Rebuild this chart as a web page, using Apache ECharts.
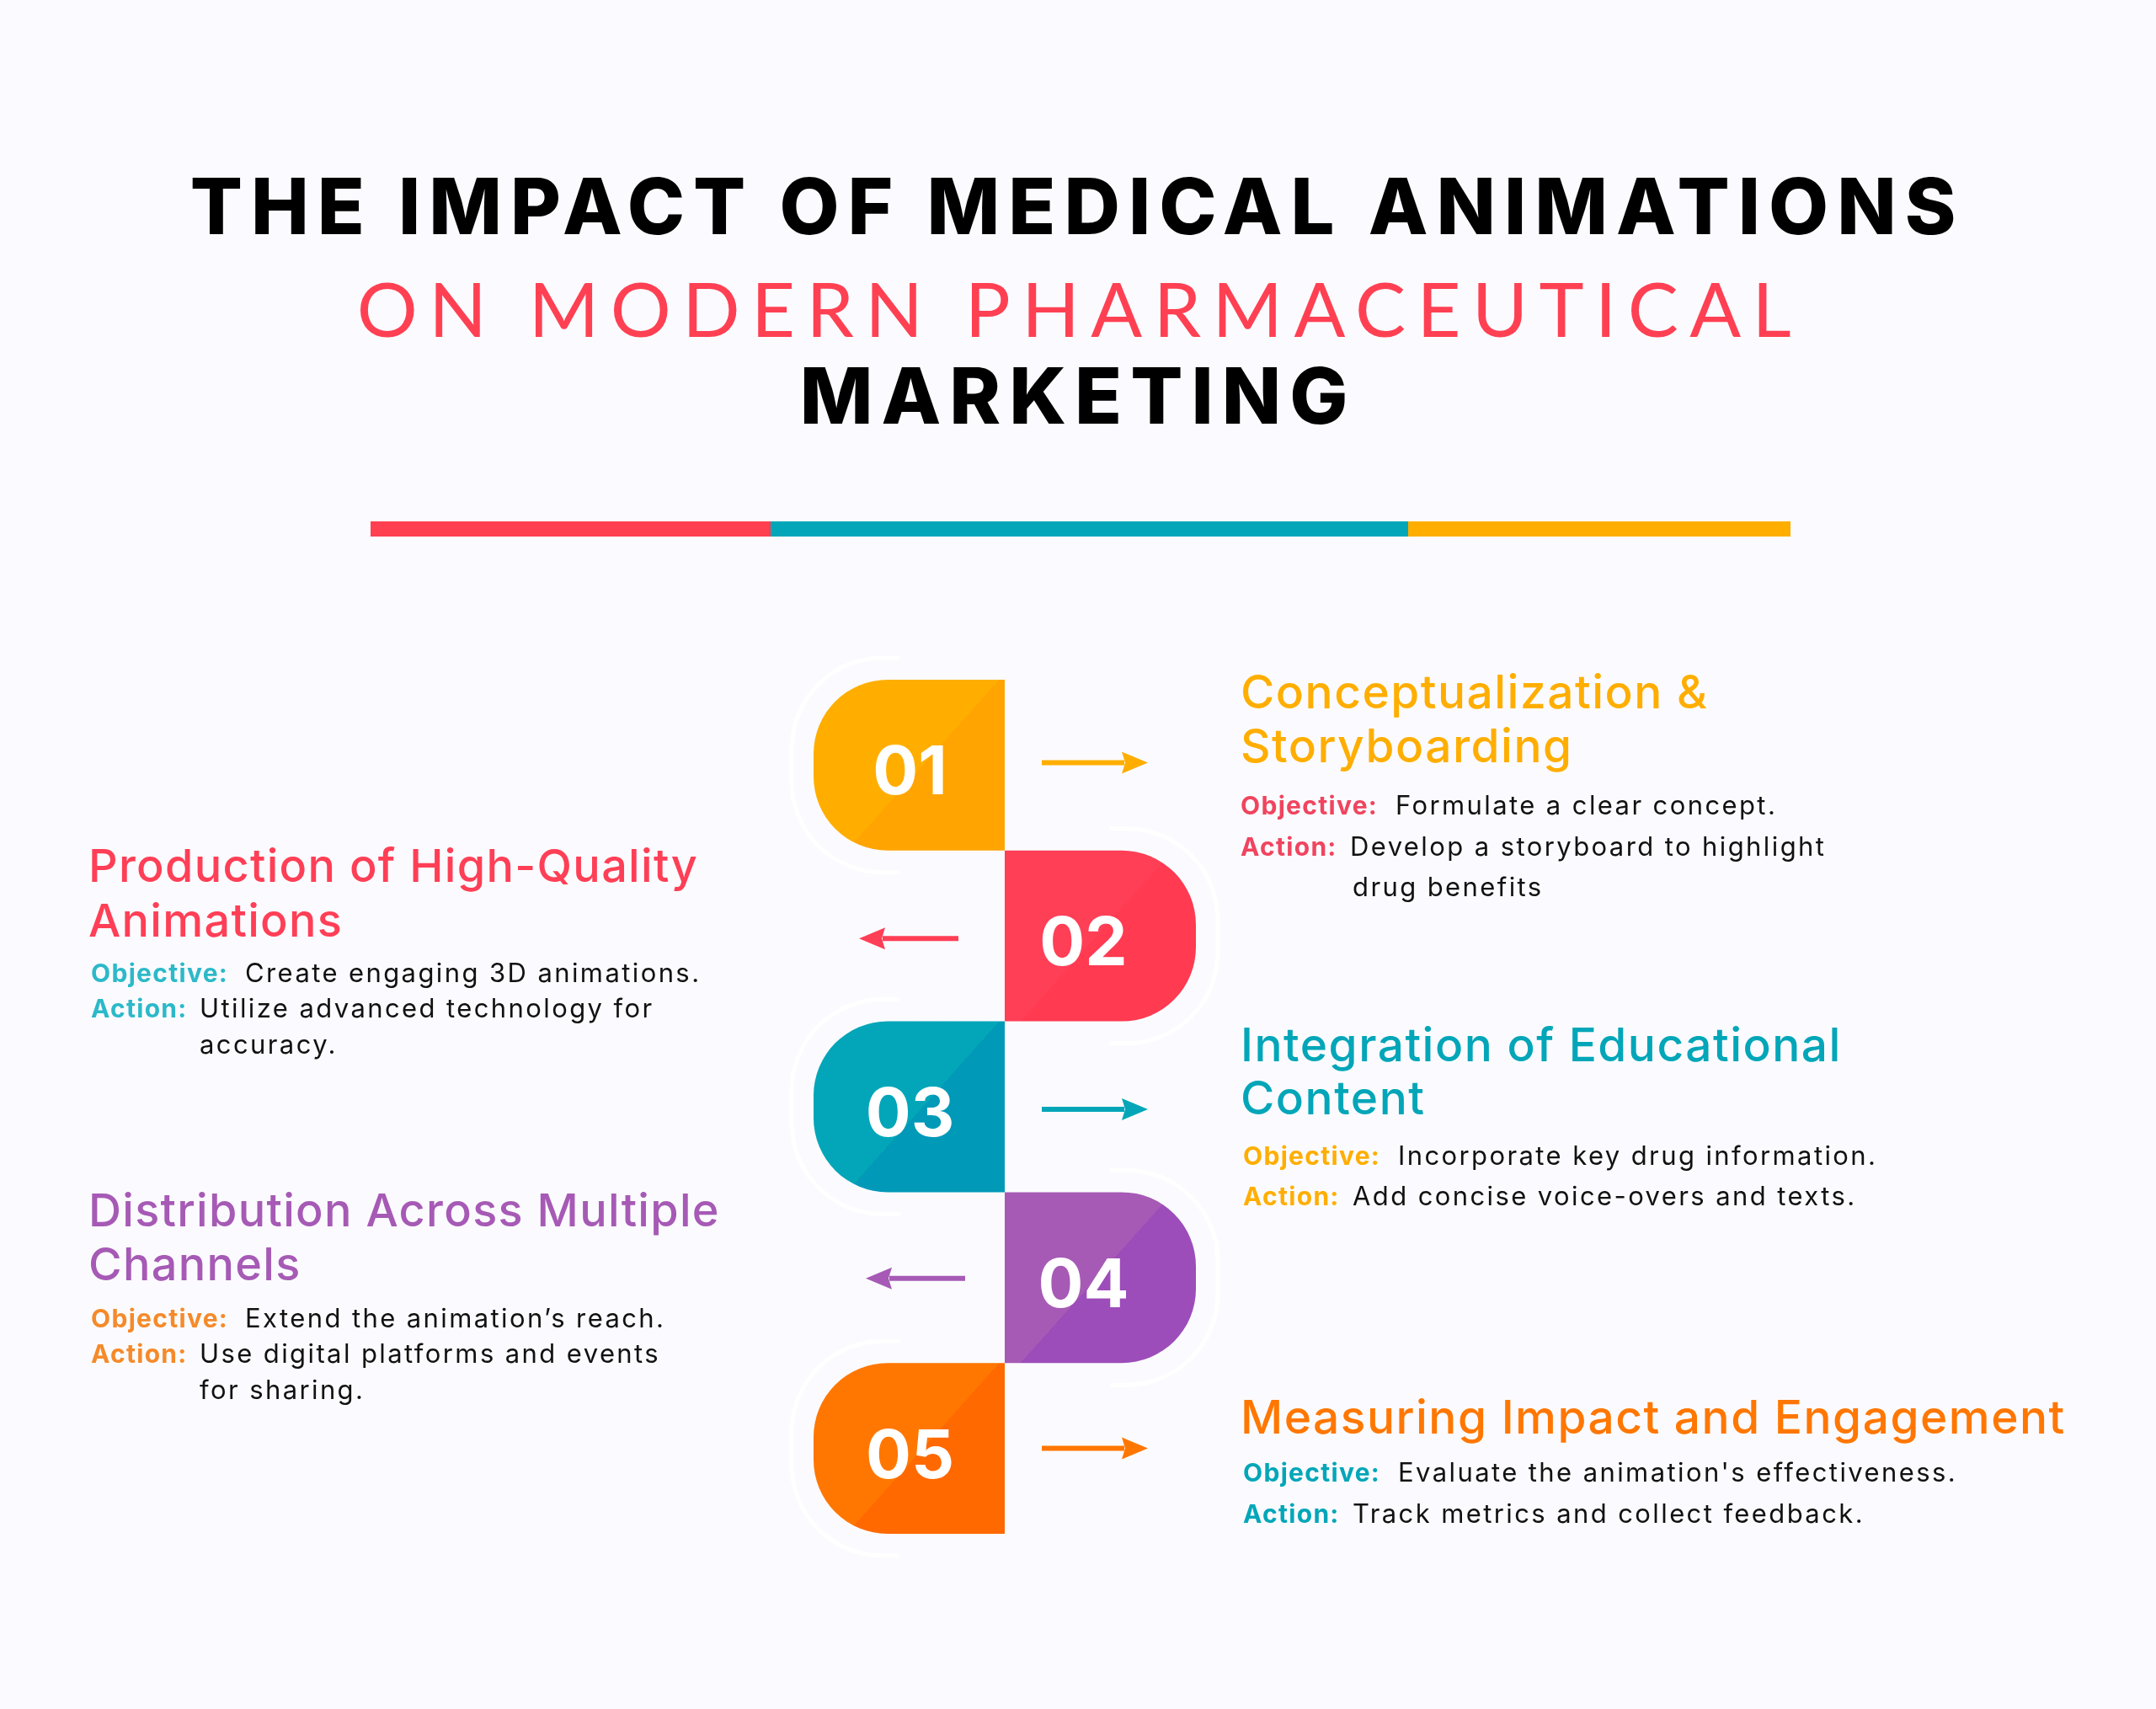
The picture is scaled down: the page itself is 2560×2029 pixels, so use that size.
<!DOCTYPE html>
<html>
<head>
<meta charset="utf-8">
<title>The Impact of Medical Animations</title>
<style>
    html, body { margin: 0; padding: 0; background: #fbfbff; }
    #main { width: 2560px; height: 2029px; }
</style>
<script src="https://cdn.jsdelivr.net/npm/echarts@6/dist/echarts.min.js"></script>
</head>
<body>
<div id="main"></div>
<script>
// chart content
var titleLines = ['THE IMPACT OF MEDICAL ANIMATIONS', 'ON MODERN PHARMACEUTICAL', 'MARKETING'];
var stepNumbers = ['01', '02', '03', '04', '05'];
var stepSides = [-1, 1, -1, 1, -1];
var stepTitles = [
    ['Conceptualization &', 'Storyboarding'],
    ['Production of High-Quality', 'Animations'],
    ['Integration of Educational', 'Content'],
    ['Distribution Across Multiple', 'Channels'],
    ['Measuring Impact and Engagement']
];
var stepObjectives = [
    'Formulate a clear concept.',
    'Create engaging 3D animations.',
    'Incorporate key drug information.',
    'Extend the animation\u2019s reach.',
    'Evaluate the animation\'s effectiveness.'
];
var stepActions = [
    ['Develop a storyboard to highlight', 'drug benefits'],
    ['Utilize advanced technology for', 'accuracy.'],
    ['Add concise voice-overs and texts.'],
    ['Use digital platforms and events', 'for sharing.'],
    ['Track metrics and collect feedback.']
];
var objectiveLabel = 'Objective:';
var actionLabel = 'Action:';

// colours
var stepLight = ['#ffae00', '#ff3f56', '#02a6b8', '#a65ab5', '#ff7700'];
var stepDark = ['#ffa400', '#ff3a51', '#0199b8', '#9c4db9', '#ff6900'];
var labelColors = ['#f0445f', '#2cb9c9', '#ffae00', '#f58a2a', '#02a6b8'];
var dividerColors = ['#ff4050', '#02a6b8', '#ffae00'];

// text rows: y of each row per step
var titleRowY = [[824, 888], [1031, 1096], [1243, 1306], [1440, 1504], [1685]];
var bodyRowY = [[958, 1007, 1055], [1157, 1199, 1242], [1374, 1422], [1567, 1609, 1652], [1750, 1799]];
var labelShiftX = [-3, 0, 0, 0, 0];
var arrowShiftX = [0, 0, 0, 8, 0];
var arrowShiftY = [-3, 3, 3, 1, 0];

// zrender has no letter spacing, so set it on the context per font size
var fontSpacing = { 92: '10px', 90: '13.4px', 55: '1.5px', 54: '1.3px', 31: '2.4px', 30: '1.3px' };
var nativeFillText = CanvasRenderingContext2D.prototype.fillText;
CanvasRenderingContext2D.prototype.fillText = function (text, x, y, maxWidth) {
    var size = /(\d+(?:\.\d+)?)px/.exec(this.font);
    this.letterSpacing = (size && fontSpacing[parseInt(size[1], 10)]) || '0px';
    if (maxWidth === undefined) {
        return nativeFillText.call(this, text, x, y);
    }
    return nativeFillText.call(this, text, x, y, maxWidth);
};

function textItem(text, x, y, fill, fontSize, fontWeight, fontFamily, align) {
    return {
        type: 'text',
        z: 10,
        style: {
            text: text,
            x: x,
            y: y,
            fill: fill,
            fontSize: fontSize,
            fontWeight: fontWeight,
            fontFamily: fontFamily,
            align: align || 'left',
            verticalAlign: 'middle'
        }
    };
}

function buildGraphic() {
    var items = [];
    items.push(textItem(titleLines[0], 1279, 250, '#000', 92, 800, 'Inter', 'center'));
    items.push(textItem(titleLines[1], 1282, 371, '#ff4053', 90, 400, 'Lato', 'center'));
    items.push(textItem(titleLines[2], 1280, 475, '#000', 92, 800, 'Inter', 'center'));

    var dividerStops = [440, 915, 1672, 2126];
    for (var d = 0; d < dividerColors.length; d++) {
        items.push({
            type: 'rect',
            shape: { x: dividerStops[d], y: 619, width: dividerStops[d + 1] - dividerStops[d], height: 18 },
            style: { fill: dividerColors[d] }
        });
    }

    for (var i = 0; i < stepNumbers.length; i++) {
        var isRight = stepSides[i] < 0;
        var titleX = isRight ? 1473 : 105;
        var titleSize = isRight ? 55 : 54;
        var labelX = (isRight ? 1476 : 108) + labelShiftX[i];
        var objectiveX = (isRight ? 1660 : 291) + labelShiftX[i];
        var actionX = isRight ? 1606 : 237;
        var rows = bodyRowY[i];

        for (var t = 0; t < stepTitles[i].length; t++) {
            items.push(textItem(stepTitles[i][t], titleX, titleRowY[i][t], stepLight[i], titleSize, 500, 'Inter'));
        }
        items.push(textItem(objectiveLabel, labelX, rows[0], labelColors[i], 30, 700, 'Inter'));
        items.push(textItem(stepObjectives[i], objectiveX, rows[0], '#111', 31, 400, 'Inter'));
        items.push(textItem(actionLabel, labelX, rows[1], labelColors[i], 30, 700, 'Inter'));
        for (var a = 0; a < stepActions[i].length; a++) {
            items.push(textItem(stepActions[i][a], actionX + (a === 0 ? labelShiftX[i] : 0), rows[1 + a], '#111', 31, 400, 'Inter'));
        }
    }
    return items;
}

/**
 * One step: halo, two-tone block, number and arrow
 */
function renderStep(params, api) {
    var i = params.dataIndex;
    var side = api.value(0);
    var center = api.coord([0, api.value(1)]);
    var outer = api.coord([side, api.value(1)]);
    var band = api.size([0, 1])[1];
    var cx = center[0];
    var top = center[1] - band / 2;
    var bottom = center[1] + band / 2;
    var width = Math.abs(outer[0] - cx);
    var midX = cx + side * width / 2;
    var split = side < 0 ? 0.54 : 0.49;
    var r = 88;

    // faint white outline round the outer end
    var haloR = 108;
    var haloX = outer[0] + side * 26;
    var startX = cx + side * 127;
    var sweep = side < 0 ? 0 : 1;
    var haloPath = 'M' + startX + ' ' + (top - 26)
        + ' L' + (haloX - side * haloR) + ' ' + (top - 26)
        + ' A' + haloR + ' ' + haloR + ' 0 0 ' + sweep + ' ' + haloX + ' ' + (top - 26 + haloR)
        + ' L' + haloX + ' ' + (bottom + 26 - haloR)
        + ' A' + haloR + ' ' + haloR + ' 0 0 ' + sweep + ' ' + (haloX - side * haloR) + ' ' + (bottom + 26)
        + ' L' + startX + ' ' + (bottom + 26);

    // arrow leaves the block on the inner side
    var dir = -side;
    var arrowY = center[1] + arrowShiftY[i];
    var tailX = cx + dir * (side < 0 ? 44 : 55) + arrowShiftX[i];
    var tipX = cx + dir * (side < 0 ? 170 : 173) + arrowShiftX[i];

    return {
        type: 'group',
        children: [
            {
                type: 'path',
                shape: { pathData: haloPath },
                style: { fill: 'none', stroke: '#ffffff', lineWidth: 5, lineCap: 'round' }
            },
            {
                type: 'rect',
                shape: {
                    x: Math.min(cx, outer[0]),
                    y: top,
                    width: width,
                    height: band,
                    r: side < 0 ? [r, 0, 0, r] : [0, r, r, 0]
                },
                style: {
                    fill: new echarts.graphic.LinearGradient(0, 0, 1, 1, [
                        { offset: 0, color: stepLight[i] },
                        { offset: split, color: stepLight[i] },
                        { offset: split, color: stepDark[i] },
                        { offset: 1, color: stepDark[i] }
                    ])
                }
            },
            {
                type: 'text',
                style: {
                    text: stepNumbers[i],
                    x: side < 0 ? midX + 1 : midX - 20,
                    y: center[1] + 11,
                    fill: '#fff',
                    fontSize: 80,
                    fontWeight: 700,
                    fontFamily: 'Inter',
                    align: 'center',
                    verticalAlign: 'middle'
                }
            },
            {
                type: 'rect',
                shape: {
                    x: Math.min(tailX, tipX - dir * 28),
                    y: arrowY - 3,
                    width: Math.abs(tailX - tipX) - 28,
                    height: 6
                },
                style: { fill: stepLight[i] }
            },
            {
                type: 'polygon',
                shape: {
                    points: [
                        [tipX, arrowY],
                        [tipX - dir * 31, arrowY - 13],
                        [tipX - dir * 27, arrowY],
                        [tipX - dir * 31, arrowY + 13]
                    ]
                },
                style: { fill: stepLight[i] }
            }
        ]
    };
}

var seriesData = [];
for (var n = 0; n < stepNumbers.length; n++) {
    seriesData.push([stepSides[n], stepNumbers[n]]);
}

var option = {
    backgroundColor: '#fbfbff',
    animation: false,
    grid: { left: 966, width: 454, top: 807, height: 1014 },
    xAxis: { type: 'value', min: -1, max: 1, show: false },
    yAxis: { type: 'category', data: stepNumbers, inverse: true, show: false },
    graphic: buildGraphic(),
    series: [
        {
            type: 'custom',
            renderItem: renderStep,
            clip: false,
            encode: { x: 0, y: 1 },
            data: seriesData
        }
    ]
};

var dom_chart = echarts.init(document.getElementById('main'));
dom_chart.setOption(option);
</script>
</body>
</html>
